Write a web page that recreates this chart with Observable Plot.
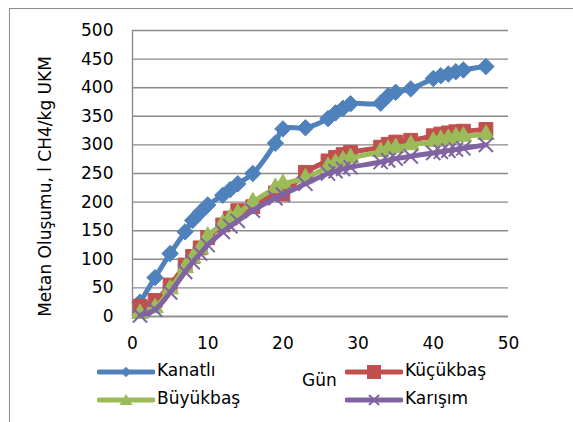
<!DOCTYPE html>
<html>
<head>
<meta charset="utf-8">
<script src="https://cdn.jsdelivr.net/npm/d3@7"></script>
<script src="https://cdn.jsdelivr.net/npm/@observablehq/plot@0.6"></script>
<style>
  html, body { margin: 0; padding: 0; background: #fff; }
  #wrap { position: relative; width: 573px; height: 422px; overflow: hidden; font-family: "DejaVu Sans", sans-serif; }
  #frame { position: absolute; left: 9px; top: 8px; width: 600px; height: 500px; border-left: 1.5px solid #8c8c8c; border-top: 1.5px solid #8c8c8c; }
  #chart { position: absolute; left: 0; top: 0; }
  .leg { position: absolute; font-size: 17px; color: #000; line-height: 1; white-space: nowrap; }
  .sw { position: absolute; }
</style>
</head>
<body>
<div id="wrap">
  <div id="frame"></div>
  <div id="chart"></div>
</div>
<script>
const days = [1, 3, 5, 7, 8, 9, 10, 12, 13, 14, 16, 19, 20, 23, 26, 27, 28, 29, 33, 34, 35, 37, 40, 41, 42, 43, 44, 47];
const kanatli  = [25, 68, 110, 148, 168, 182, 195, 212, 222, 232, 250, 303, 328, 330, 346, 356, 364, 372, 373, 386, 392, 398, 416, 421, 424, 428, 431, 437];
const kucukbas = [18, 28, 55, 90, 105, 120, 138, 160, 172, 185, 192, 216, 214, 252, 272, 278, 283, 287, 296, 301, 305, 308, 316, 319, 321, 323, 324, 327];
const buyukbas = [5, 15, 48, 85, 102, 118, 140, 162, 172, 180, 200, 225, 232, 242, 262, 268, 273, 277, 288, 292, 295, 300, 306, 309, 311, 314, 315, 318];
const karisim  = [2, 12, 42, 78, 95, 110, 125, 148, 158, 167, 185, 207, 213, 232, 250, 254, 258, 261, 270, 273, 276, 280, 286, 288, 290, 292, 294, 300];
const seriesNames = ["Kanatlı", "Küçükbaş", "Büyükbaş", "Karışım"];
const seriesColors = ["#4F81BD", "#C0504D", "#9BBB59", "#8064A2"];
const xTicks = [0, 10, 20, 30, 40, 50];
const yTicks = [0, 50, 100, 150, 200, 250, 300, 350, 400, 450, 500];
const yLabel = "Metan Oluşumu, l CH4/kg UKM";
const xLabel = "Gün";

const allValues = [kanatli, kucukbas, buyukbas, karisim];
const tables = allValues.map(vals => days.map((d, i) => ({day: d, value: vals[i]})));

const symbolSpec = [
  {symbol: "diamond2", r: 7.4, fill: true},
  {symbol: "square", r: 7.8, fill: true},
  {symbol: "triangle", r: 6.2, fill: true},
  {symbol: "times", r: 6.5, fill: false}
];

const marks = [
  Plot.gridY(yTicks, {stroke: "#8a8a8a", strokeOpacity: 1, strokeWidth: 1.4}),
  Plot.ruleX([0], {stroke: "#8a8a8a", strokeWidth: 1.4}),
  Plot.ruleY([0], {stroke: "#8a8a8a", strokeWidth: 1.4})
];
tables.forEach((t, k) => {
  const c = seriesColors[k];
  const s = symbolSpec[k];
  marks.push(Plot.line(t, {x: "day", y: "value", stroke: c, strokeWidth: 5, curve: "catmull-rom"}));
  marks.push(Plot.dot(t, s.fill
    ? {x: "day", y: "value", symbol: () => s.symbol, r: s.r, fill: c, stroke: c, strokeWidth: 1}
    : {x: "day", y: "value", symbol: () => s.symbol, r: s.r, stroke: c, strokeWidth: 2}));
});
marks.push(Plot.text([yLabel], {text: d => d, frameAnchor: "left", textAnchor: "middle", lineAnchor: "middle", rotate: -90, dx: -87, dy: 13, fill: "#000", fontSize: 17}));

const chart = Plot.plot({
  width: 573,
  height: 350,
  marginLeft: 132,
  marginRight: 65,
  marginTop: 30,
  marginBottom: 34,
  style: {fontFamily: "DejaVu Sans", fontSize: "17px", color: "#000", background: "transparent", overflow: "visible"},
  x: {domain: [0, 50], ticks: xTicks, tickSize: 0, tickPadding: 20, label: null, tickFormat: d => String(d)},
  y: {domain: [0, 500], ticks: yTicks, tickSize: 0, tickPadding: 19, label: null, tickFormat: d => String(d)},
  symbol: {type: "identity"},
  marks
});
document.getElementById("chart").appendChild(chart);

// Legend (HTML)
const wrap = document.getElementById("wrap");
const legendPos = [
  {x: 97, y: 372},
  {x: 345, y: 372},
  {x: 97, y: 400},
  {x: 345, y: 400}
];
const legendSymbol = {
  "diamond2": (c) => `<path d="M0,-6.5L6.5,0L0,6.5L-6.5,0Z" fill="${c}" transform="scale(0.8)"/>`,
  "square": (c) => `<rect x="-7" y="-7" width="14" height="14" fill="${c}"/>`,
  "triangle": (c) => `<path d="M0,-6L6.5,5L-6.5,5Z" fill="${c}"/>`,
  "times": (c) => `<path d="M-5,-5L5,5M5,-5L-5,5" stroke="${c}" stroke-width="2"/>`
};
seriesNames.forEach((name, k) => {
  const p = legendPos[k];
  const c = seriesColors[k];
  const sw = document.createElement("div");
  sw.className = "sw";
  sw.style.left = p.x + "px";
  sw.style.top = (p.y - 10) + "px";
  sw.innerHTML = `<svg width="58" height="20"><line x1="2" y1="10" x2="56" y2="10" stroke="${c}" stroke-width="5" stroke-linecap="round"/><g transform="translate(29,10)">${legendSymbol[symbolSpec[k].symbol](c)}</g></svg>`;
  wrap.appendChild(sw);
  const t = document.createElement("div");
  t.className = "leg";
  t.textContent = name;
  t.style.left = (p.x + 60) + "px";
  t.style.top = (p.y - 10) + "px";
  wrap.appendChild(t);
});
const g = document.createElement("div");
g.className = "leg";
g.textContent = xLabel;
g.style.left = "302px";
g.style.top = "372px";
wrap.appendChild(g);
</script>
</body>
</html>
